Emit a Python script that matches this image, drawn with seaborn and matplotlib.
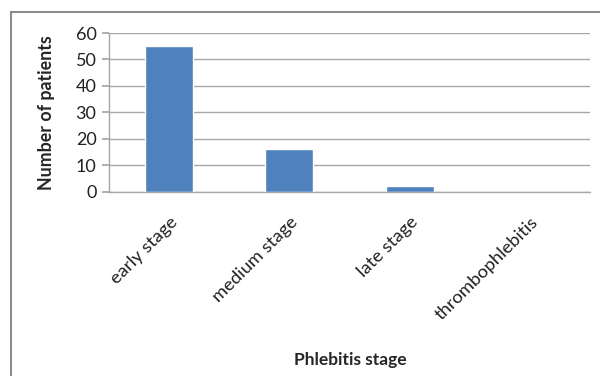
import matplotlib
matplotlib.use("Agg")
import matplotlib.pyplot as plt
import seaborn as sns
import pandas as pd
from matplotlib.patches import Rectangle

categories = ["early stage", "medium stage", "late stage", "thrombophlebitis"]
patients = [55, 16, 2, 0]
yticks = [0, 10, 20, 30, 40, 50, 60]

df = pd.DataFrame({"stage": categories, "patients": patients})

sns.set_theme(style="white")
plt.rcParams["font.family"] = ["Lato", "DejaVu Sans"]

fig = plt.figure(figsize=(6, 3.76), dpi=100)
ax = fig.add_axes([109/600, 1-191.7/376, (590-109)/600, (191.7-33)/376])

sns.barplot(data=df, x="stage", y="patients", color="#4F81BD", width=0.4,
            saturation=1, ax=ax, zorder=3)

ax.set_ylim(0, 60)
ax.set_yticks(yticks)
ax.set_xlim(-0.5, 3.5)
ax.yaxis.grid(True, color="#A6A6A6", linewidth=1, zorder=0)
ax.set_axisbelow(True)
for s in ["top", "right"]:
    ax.spines[s].set_visible(False)
for s in ["left", "bottom"]:
    ax.spines[s].set_color("#A6A6A6")
    ax.spines[s].set_linewidth(1)
ax.tick_params(axis="y", which="major", left=True, length=5, color="#A6A6A6",
               labelsize=13, labelcolor="#222222", pad=4)
ax.tick_params(axis="x", bottom=False, labelsize=13.2, labelcolor="#222222", pad=10)
for lbl in ax.get_xticklabels():
    lbl.set_rotation(45)
    lbl.set_ha("right")
    lbl.set_rotation_mode("anchor")

ax.set_ylabel("Number of patients", fontsize=12.8, fontweight="bold")
ax.yaxis.set_label_coords((55-109)/481, 0.5)
ax.set_xlabel("Phlebitis stage", fontsize=12.5, fontweight="bold")
ax.xaxis.set_label_coords((350-109)/481, (191.7-352)/158.7)

fig.patches.append(Rectangle((10.5/600, -0.1), 1.2, 1-11.5/376+0.1,
                             transform=fig.transFigure, fill=False,
                             edgecolor="#8C8C8C", linewidth=1.5))

fig.savefig("out.png", dpi=100)
